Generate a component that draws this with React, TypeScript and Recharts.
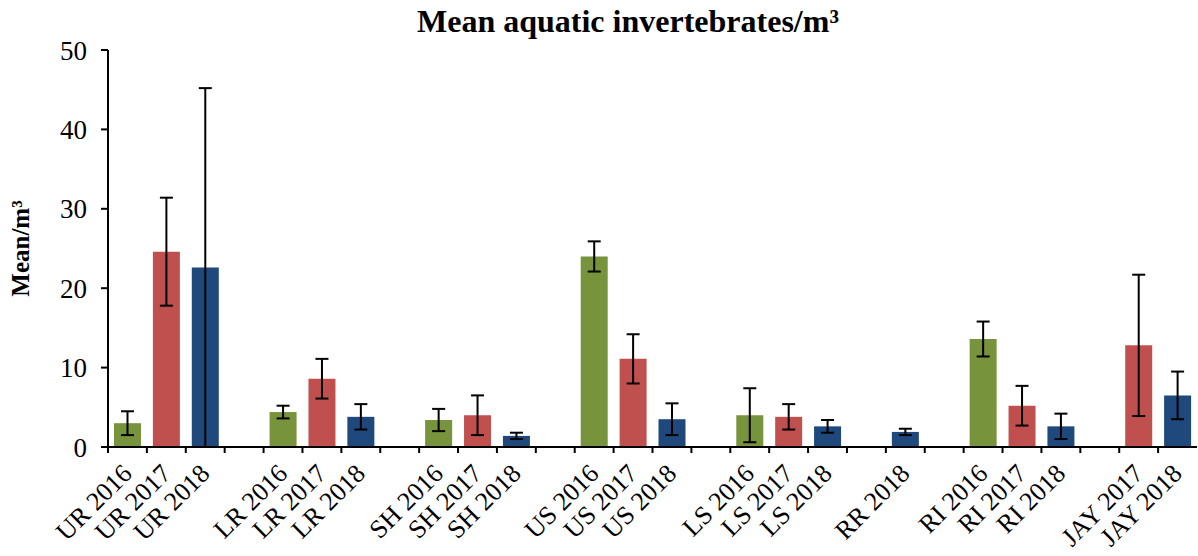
import { Bar, BarChart, Cell, ErrorBar, XAxis, YAxis } from "recharts";

const labels = [
  "UR 2016", "UR 2017", "UR 2018", "",
  "LR 2016", "LR 2017", "LR 2018", "",
  "SH 2016", "SH 2017", "SH 2018", "",
  "US 2016", "US 2017", "US 2018", "",
  "LS 2016", "LS 2017", "LS 2018", "",
  "RR 2018", "",
  "RI 2016", "RI 2017", "RI 2018", "",
  "JAY 2017", "JAY 2018",
];

const means = [
  3.0, 24.6, 22.6, null,
  4.4, 8.6, 3.8, null,
  3.4, 4.0, 1.4, null,
  24.0, 11.1, 3.5, null,
  4.0, 3.8, 2.6, null,
  1.9, null,
  13.6, 5.2, 2.6, null,
  12.8, 6.5,
];

const errors = [
  1.5, 6.8, 22.6, null,
  0.8, 2.5, 1.6, null,
  1.4, 2.5, 0.4, null,
  1.9, 3.1, 2.0, null,
  3.4, 1.6, 0.8, null,
  0.4, null,
  2.2, 2.5, 1.6, null,
  8.9, 3.0,
];

const yTicks = [0, 10, 20, 30, 40, 50];

const YEAR_COLORS: Record<string, string> = {
  "2016": "#77933C",
  "2017": "#C0504D",
  "2018": "#1F497D",
};

const W = 1198;
const H = 556;
const LEFT = 108;
const RIGHT = 1;
const BAND = (W - LEFT - RIGHT) / labels.length;
const FONT = "'Liberation Serif', 'Times New Roman', serif";

const data = labels.map((name, i) => ({
  name,
  mean: means[i],
  err: errors[i],
  fill: YEAR_COLORS[name.split(" ")[1]] ?? "#000",
}));

function XTick({ x, y, payload }: any) {
  const bx = x - BAND / 2;
  return (
    <g>
      <line x1={bx} x2={bx} y1={y} y2={y + 6} stroke="#000" strokeWidth={2} />
      <text
        transform={`translate(${x + 6},${y + 28}) rotate(-45)`}
        textAnchor="end"
        fontSize={26}
        fontFamily={FONT}
        fill="#000"
      >
        {payload.value}
      </text>
    </g>
  );
}

export default function App() {
  return (
    <div style={{ position: "absolute", left: 0, top: 0, width: W, height: H, background: "#fff" }}>
      <div
        style={{
          position: "absolute",
          top: 5,
          left: 628,
          transform: "translateX(-50%)",
          whiteSpace: "nowrap",
          fontFamily: FONT,
          fontWeight: "bold",
          fontSize: 32,
          lineHeight: "32px",
          color: "#000",
        }}
      >
        Mean aquatic invertebrates/m³
      </div>
      <BarChart
        width={W}
        height={H}
        data={data}
        margin={{ top: 50, right: RIGHT, left: 0, bottom: 0 }}
        barSize={27}
      >
        <XAxis
          dataKey="name"
          interval={0}
          height={109}
          tickSize={0}
          tickMargin={0}
          tickLine={false}
          axisLine={{ stroke: "#000", strokeWidth: 2 }}
          tick={<XTick />}
        />
        <YAxis
          domain={[0, 50]}
          ticks={yTicks}
          width={LEFT}
          tickSize={7}
          tickMargin={14}
          axisLine={{ stroke: "#000", strokeWidth: 2 }}
          tickLine={{ stroke: "#000", strokeWidth: 2 }}
          tick={{ fill: "#000", fontSize: 27, fontFamily: FONT }}
          label={{
            value: "Mean/m³",
            angle: -90,
            position: "insideLeft",
            offset: 20,
            style: { fontSize: 25, fontWeight: "bold", fontFamily: FONT, fill: "#000", textAnchor: "middle" },
          }}
        />
        <Bar dataKey="mean" isAnimationActive={false}>
          {data.map((d, i) => (
            <Cell key={i} fill={d.fill} />
          ))}
          <ErrorBar dataKey="err" width={6.5} stroke="#000" strokeWidth={2} isAnimationActive={false} />
        </Bar>
      </BarChart>
    </div>
  );
}
